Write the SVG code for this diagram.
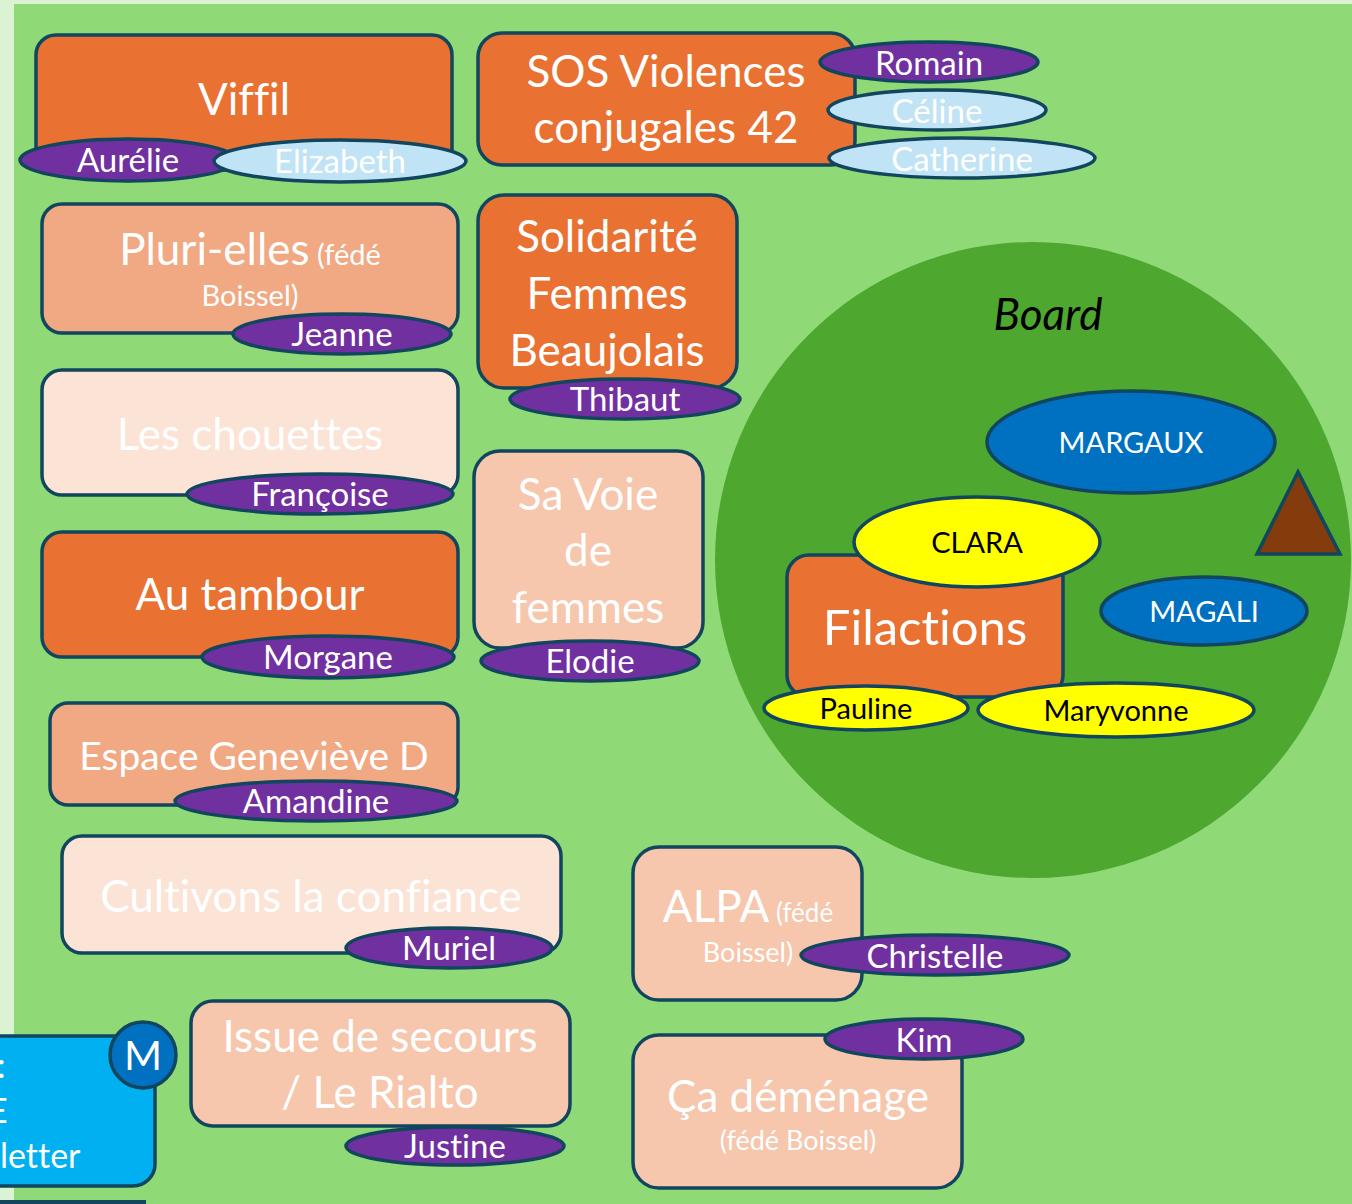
<svg xmlns="http://www.w3.org/2000/svg" width="1352" height="1204" viewBox="0 0 1352 1204">
<style>
.bx{stroke:#11465e;stroke-width:3.5}
.el{stroke:#11465e;stroke-width:3.5}
.or{fill:#e97132}.sa{fill:#f1a983}.pe{fill:#f6c6ad}.li{fill:#fbe3d6}
.pu{fill:#7030a0}.lb{fill:#c0e4f5}.bl{fill:#0070c0}.ye{fill:#ffff00}
text{font-family:Lato,"Open Sans","Liberation Sans",sans-serif;text-anchor:middle;font-variant-ligatures:none}
.w{fill:#ffffff}.k{fill:#000000}
.big{font-size:44px}.nm{font-size:33px}.sm{font-size:28px}.bd{font-size:29px}
</style>
<rect x="0" y="0" width="1352" height="1204" fill="#dbf3d3"/>
<rect x="14" y="4" width="1338" height="1200" fill="#8fda76"/>
<rect x="0" y="1200" width="146" height="4" fill="#11465e"/>
<g id="connectors"/>

<g id="board">
<circle cx="1033" cy="560" r="318" fill="#4ea72e"/>
<text x="1048" y="330" class="k" style="font-size:44px;font-style:italic">Board</text>
</g>
<g id="margaux"><ellipse cx="1131" cy="442" rx="144" ry="51" class="el bl"/><text x="1131" y="453" class="w bd">MARGAUX</text></g>
<g id="triangle"><polygon points="1298,472 1257,554 1340,554" fill="#843c0c" stroke="#11465e" stroke-width="3.5"/></g>
<g id="filactions"><rect x="787" y="555" width="276" height="142" rx="22" class="bx or"/><text x="925" y="645" class="w" style="font-size:49px">Filactions</text></g>
<g id="clara"><ellipse cx="977" cy="542" rx="123" ry="45" class="el ye"/><text x="977" y="553" class="k bd">CLARA</text></g>
<g id="magali"><ellipse cx="1204" cy="611" rx="103" ry="34" class="el bl"/><text x="1204" y="622" class="w bd">MAGALI</text></g>
<g id="pauline"><ellipse cx="866" cy="708" rx="102" ry="22" class="el ye"/><text x="866" y="719" class="k bd">Pauline</text></g>
<g id="maryvonne"><ellipse cx="1116" cy="710" rx="138" ry="27" class="el ye"/><text x="1116" y="721" class="k bd">Maryvonne</text></g>

<g id="viffil"><rect x="36" y="35" width="416" height="135" rx="20" class="bx or"/><text x="244" y="115" class="w big">Viffil</text></g>
<g id="aurelie"><ellipse cx="128" cy="160" rx="108" ry="21" class="el pu"/><text x="128" y="172" class="w nm">Aurélie</text></g>
<g id="elizabeth"><ellipse cx="340" cy="161" rx="126" ry="21" class="el lb"/><text x="340" y="173" class="w nm">Elizabeth</text></g>

<g id="sos"><rect x="478" y="33" width="377" height="132" rx="24" class="bx or"/><text x="666" y="87" class="w big">SOS Violences</text><text x="666" y="143" class="w big">conjugales 42</text></g>
<g id="romain"><ellipse cx="929" cy="62" rx="109" ry="20" class="el pu"/><text x="929" y="75" class="w nm">Romain</text></g>
<g id="celine"><ellipse cx="937" cy="110" rx="109" ry="20" class="el lb"/><text x="937" y="123" class="w nm">Céline</text></g>
<g id="catherine"><ellipse cx="962" cy="158" rx="133" ry="20" class="el lb"/><text x="962" y="171" class="w nm">Catherine</text></g>

<g id="pluri"><rect x="42" y="204" width="416" height="129" rx="20" class="bx sa"/><text x="250" y="265" class="w"><tspan class="big">Pluri-elles</tspan><tspan style="font-size:29px"> (fédé</tspan></text><text x="250" y="306" class="w" style="font-size:29px">Boissel)</text></g>
<g id="jeanne"><ellipse cx="342" cy="334" rx="109" ry="20" class="el pu"/><text x="342" y="346" class="w nm">Jeanne</text></g>

<g id="solidarite"><rect x="478" y="195" width="259" height="193" rx="26" class="bx or"/><text x="607" y="252" class="w big">Solidarité</text><text x="607" y="309" class="w big">Femmes</text><text x="607" y="366" class="w big">Beaujolais</text></g>
<g id="thibaut"><ellipse cx="625" cy="399" rx="115" ry="20" class="el pu"/><text x="625" y="411" class="w nm">Thibaut</text></g>

<g id="chouettes"><rect x="42" y="370" width="416" height="125" rx="20" class="bx li"/><text x="250" y="450" class="w big">Les chouettes</text></g>
<g id="francoise"><ellipse cx="320" cy="494" rx="133" ry="20" class="el pu"/><text x="320" y="506" class="w nm">Françoise</text></g>

<g id="savoie"><rect x="474" y="451" width="229" height="197" rx="26" class="bx pe"/><text x="588" y="510" class="w big">Sa Voie</text><text x="588" y="566" class="w big">de</text><text x="588" y="623" class="w big">femmes</text></g>
<g id="elodie"><ellipse cx="590" cy="661" rx="109" ry="20" class="el pu"/><text x="590" y="673" class="w nm">Elodie</text></g>

<g id="tambour"><rect x="42" y="532" width="416" height="125" rx="20" class="bx or"/><text x="250" y="610" class="w big">Au tambour</text></g>
<g id="morgane"><ellipse cx="328" cy="657" rx="126" ry="21" class="el pu"/><text x="328" y="669" class="w nm">Morgane</text></g>

<g id="espace"><rect x="50" y="703" width="408" height="102" rx="18" class="bx sa"/><text x="254" y="770" class="w" style="font-size:39px">Espace Geneviève D</text></g>
<g id="amandine"><ellipse cx="316" cy="801" rx="141" ry="20" class="el pu"/><text x="316" y="813" class="w nm">Amandine</text></g>

<g id="cultivons"><rect x="62" y="836" width="499" height="117" rx="20" class="bx li"/><text x="311" y="912" class="w big">Cultivons la confiance</text></g>
<g id="muriel"><ellipse cx="449" cy="948" rx="103" ry="20" class="el pu"/><text x="449" y="960" class="w nm">Muriel</text></g>

<g id="alpa"><rect x="633" y="847" width="229" height="153" rx="26" class="bx pe"/><text x="748" y="922" class="w"><tspan class="big">ALPA</tspan><tspan style="font-size:26px"> (fédé</tspan></text><text x="748" y="962" class="w" style="font-size:27px">Boissel)</text></g>
<g id="christelle"><ellipse cx="935" cy="955" rx="134" ry="20" class="el pu"/><text x="935" y="968" class="w nm">Christelle</text></g>

<g id="issue"><rect x="191" y="1001" width="379" height="125" rx="22" class="bx pe"/><text x="380" y="1052" class="w big">Issue de secours</text><text x="380" y="1108" class="w big">/ Le Rialto</text></g>
<g id="justine"><ellipse cx="455" cy="1146" rx="109" ry="19" class="el pu"/><text x="455" y="1158" class="w nm">Justine</text></g>

<g id="demenage"><rect x="633" y="1035" width="329" height="153" rx="26" class="bx pe"/><text x="798" y="1112" class="w big">Ça déménage</text><text x="798" y="1150" class="w" style="font-size:27px">(fédé Boissel)</text></g>
<g id="kim"><ellipse cx="924" cy="1039" rx="99" ry="20" class="el pu"/><text x="924" y="1052" class="w nm">Kim</text></g>

<g id="newsletter"><rect x="-40" y="1036" width="195" height="150" rx="22" class="bx" fill="#00b0f0"/><text x="-3" y="1078" class="w" style="font-size:34px;text-anchor:start">:</text><text x="-12" y="1123" class="w" style="font-size:34px;text-anchor:start">E</text><text x="0" y="1168" class="w" style="font-size:34px;text-anchor:start">letter</text></g>
<g id="m"><circle cx="143" cy="1055" r="33" class="el bl"/><text x="143" y="1070" class="w" style="font-size:41px">M</text></g>
</svg>
